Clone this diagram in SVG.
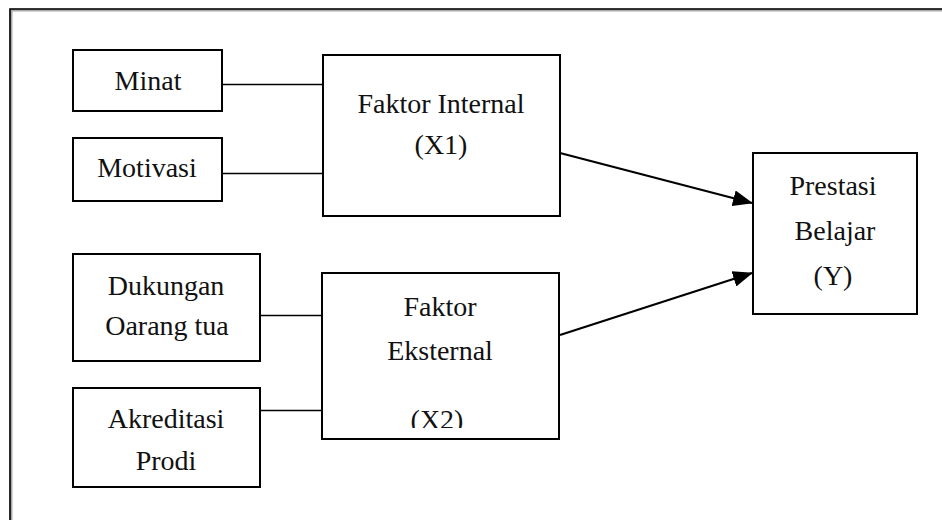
<svg xmlns="http://www.w3.org/2000/svg" width="942" height="520" viewBox="0 0 942 520">
<defs>
<style>
.box{fill:#fff;stroke:#000;stroke-width:2}
.t{font-family:"Liberation Serif","Times New Roman",serif;font-size:28px;fill:#111;text-anchor:middle}
.ln{stroke:#000;stroke-width:1.3;fill:none}
.ar{stroke:#000;stroke-width:2.2;fill:none}
</style>
<marker id="ah2" markerWidth="20" markerHeight="16" refX="19" refY="8" orient="auto" markerUnits="userSpaceOnUse" viewBox="0 0 20 16">
<path d="M0,0 L20,8 L0,16 z" fill="#000"/>
</marker>
<clipPath id="cx2"><rect x="322" y="273" width="237" height="155"/></clipPath>
</defs>
<rect width="942" height="520" fill="#fff"/>
<path d="M11,530 V10 H950" fill="none" stroke="#aaa" stroke-width="3"/>
<path d="M10,530 V9 H950" fill="none" stroke="#000" stroke-width="1.6"/>

<g id="connectors">
<line class="ln" x1="222" y1="84.5" x2="323" y2="84.5"/>
<line class="ln" x1="222" y1="173.5" x2="323" y2="173.5"/>
<line class="ln" x1="260" y1="315.5" x2="322" y2="315.5"/>
<line class="ln" x1="260" y1="410.5" x2="322" y2="410.5"/>
<line class="ar" x1="560" y1="153" x2="752" y2="203" marker-end="url(#ah2)"/>
<line class="ar" x1="560" y1="335" x2="752" y2="273" marker-end="url(#ah2)"/>
</g>

<g id="minat">
<rect class="box" x="73" y="50" width="149" height="61"/>
<text class="t" x="148" y="90">Minat</text>
</g>
<g id="motivasi">
<rect class="box" x="73" y="138" width="149" height="63"/>
<text class="t" x="147" y="177">Motivasi</text>
</g>
<g id="faktor-internal">
<rect class="box" x="323" y="55" width="237" height="161"/>
<text class="t" x="441" y="113">Faktor Internal</text>
<text class="t" x="441" y="154">(X1)</text>
</g>
<g id="dukungan">
<rect class="box" x="73" y="254" width="187" height="107"/>
<text class="t" x="166" y="295">Dukungan</text>
<text class="t" x="167" y="335">Oarang tua</text>
</g>
<g id="akreditasi">
<rect class="box" x="73" y="388" width="187" height="99"/>
<text class="t" x="166" y="428">Akreditasi</text>
<text class="t" x="166" y="470">Prodi</text>
</g>
<g id="faktor-eksternal">
<rect class="box" x="322" y="273" width="237" height="166"/>
<text class="t" x="440" y="316">Faktor</text>
<text class="t" x="440" y="360">Eksternal</text>
<text class="t" x="437" y="429" clip-path="url(#cx2)">(X2)</text>
</g>
<g id="prestasi">
<rect class="box" x="753" y="153" width="164" height="161"/>
<text class="t" x="833" y="195">Prestasi</text>
<text class="t" x="835" y="240">Belajar</text>
<text class="t" x="833" y="285">(Y)</text>
</g>
</svg>
